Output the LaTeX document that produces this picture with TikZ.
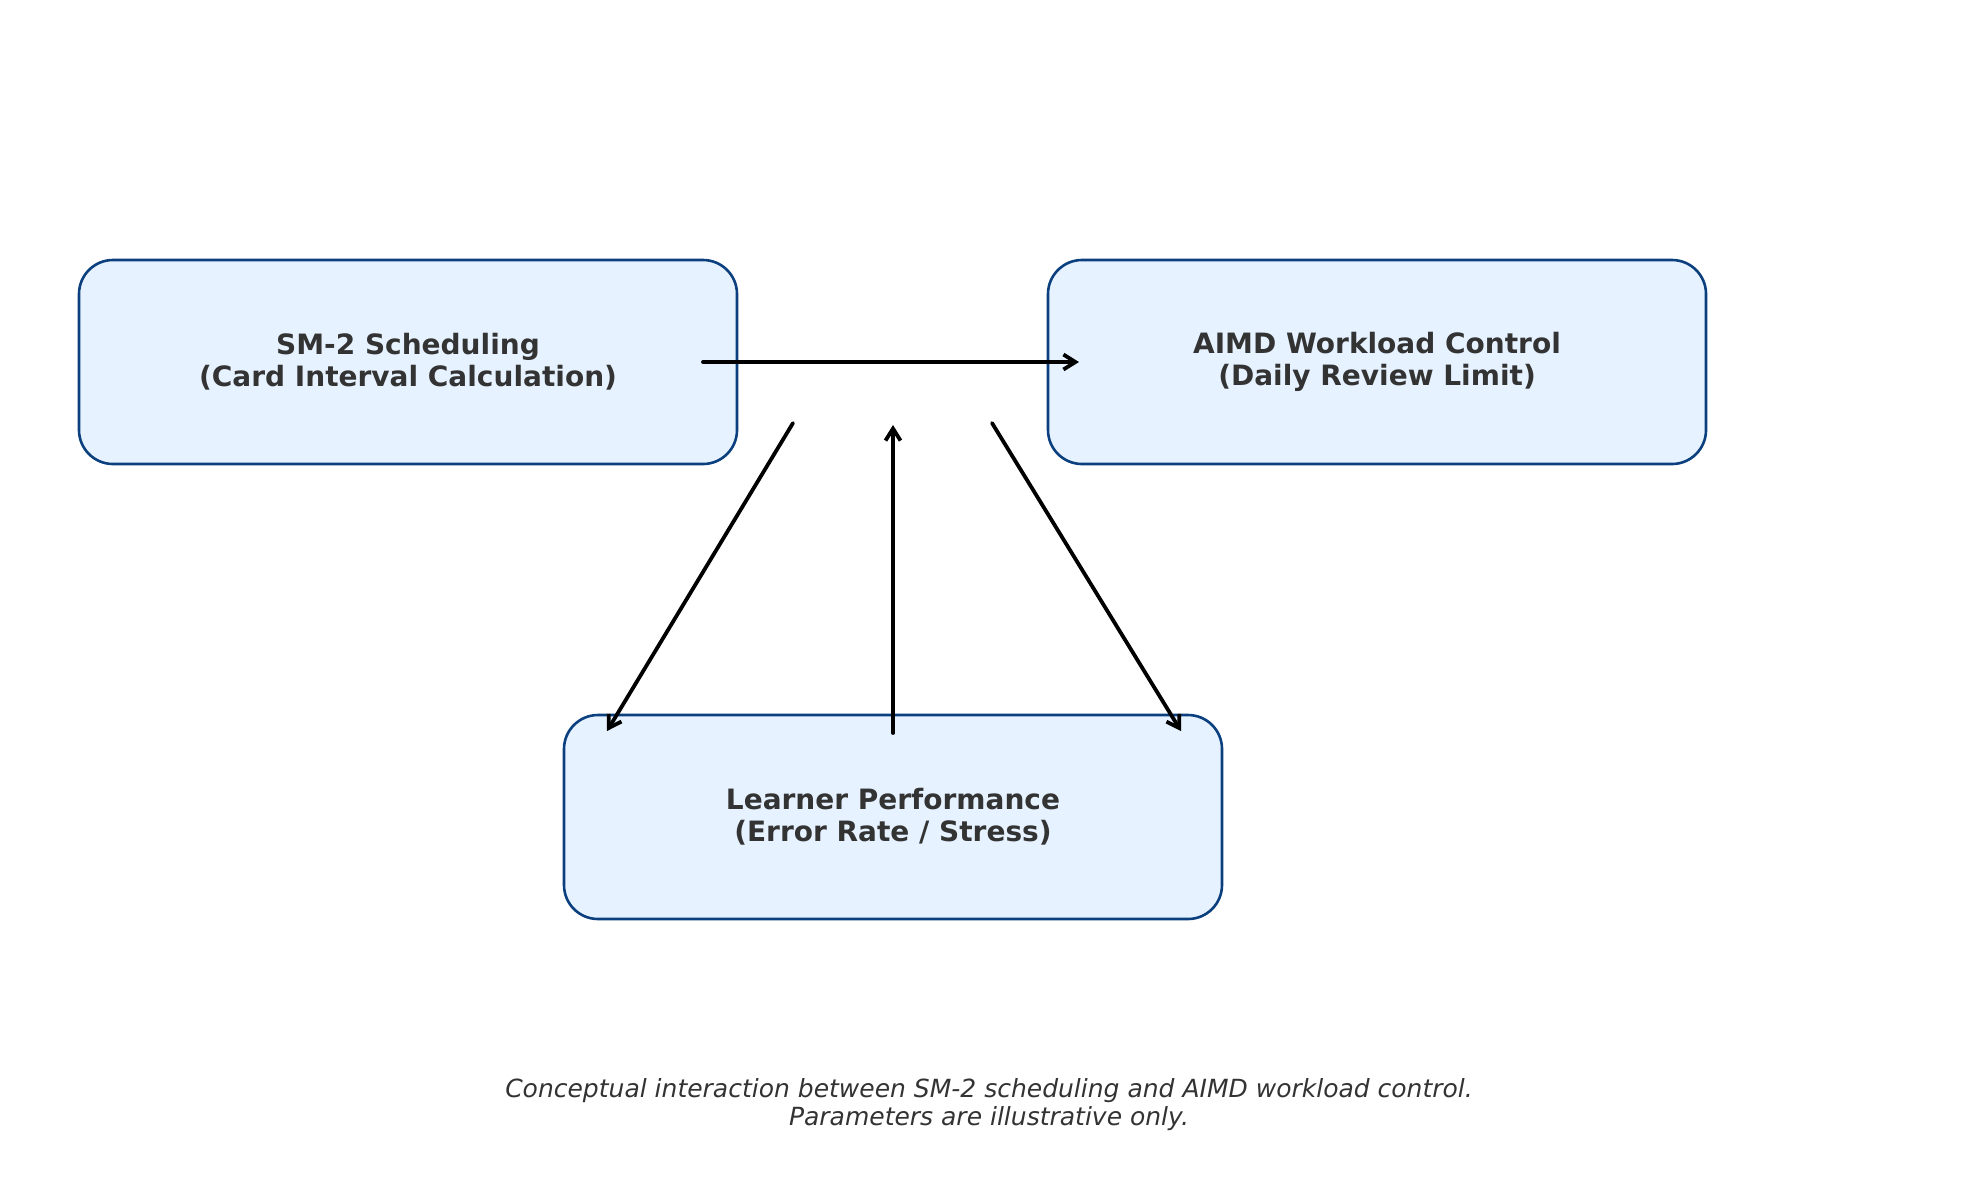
\documentclass[tikz,border=0pt]{standalone}
\usepackage{fontspec}
\setmainfont{DejaVu Sans}
\usetikzlibrary{arrows.meta}
\definecolor{boxfill}{HTML}{E6F2FF}
\definecolor{boxline}{HTML}{0B3F7E}
\definecolor{txt}{HTML}{333333}
\tikzset{
  blk/.style={draw=boxline, fill=boxfill, line width=1.3pt, rounded corners=17pt,
    minimum width=329pt, minimum height=102pt, inner sep=0pt, align=center,
    text=txt, font=\fontsize{14}{16}\selectfont\bfseries},
  conn/.style={draw=black, line width=1.9pt, line cap=round,
    -{Straight Barb[length=6pt,width=7.5pt,line width=1.9pt]}},
  captxt/.style={align=center, text=txt, font=\fontsize{12.5}{14}\selectfont\itshape}
}
\begin{document}
\begin{tikzpicture}[x=0.5pt,y=-0.5pt]
\useasboundingbox (0,0) rectangle (1979,1180);
\node[blk] (sm) at (408,362) {SM-2 Scheduling\\(Card Interval Calculation)};
\node[blk] (aimd) at (1377,362) {AIMD Workload Control\\(Daily Review Limit)};
\node[blk] (lp) at (893,817) {Learner Performance\\(Error Rate / Stress)};
\coordinate (h1) at (703,362);
\coordinate (h2) at (1079,362);
\coordinate (l1) at (793,423);
\coordinate (l2) at (607,731);
\coordinate (u1) at (893,733);
\coordinate (u2) at (893,425);
\coordinate (r1) at (992,423);
\coordinate (r2) at (1181,731);
\draw[conn] (h1) -- (h2);
\draw[conn] (l1) -- (l2);
\draw[conn] (u1) -- (u2);
\draw[conn] (r1) -- (r2);
\node[captxt] (caption) at (989,1105) {Conceptual interaction between SM-2 scheduling and AIMD workload control.\\Parameters are illustrative only.};
\end{tikzpicture}
\end{document}
